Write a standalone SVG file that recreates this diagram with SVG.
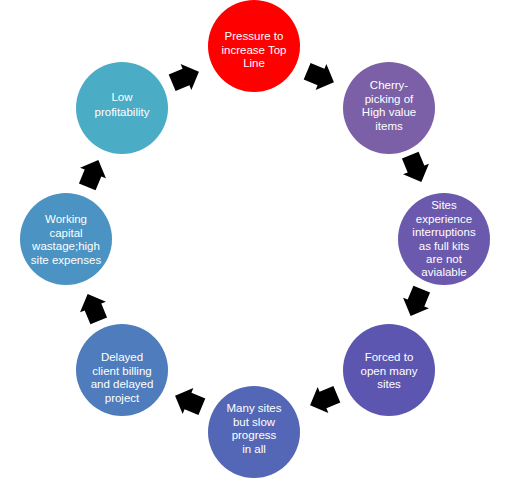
<svg xmlns="http://www.w3.org/2000/svg" xmlns:xlink="http://www.w3.org/1999/xlink" width="511" height="479" viewBox="0 0 511 479">
<style>
.t{font-family:"Liberation Sans",Arial,sans-serif;font-size:11.5px;fill:#ffffff;text-anchor:middle}
.arr{fill:#000000}
</style>
<defs>
<polygon id="ah" points="-15,-9 0,-9 0,-14 14,0 0,14 0,9 -15,9"/>
</defs>
<rect width="511" height="479" fill="#ffffff"/>
<g id="connectors" class="arr">
<use xlink:href="#ah" transform="translate(186,77) rotate(-22.5)"/>
<use xlink:href="#ah" transform="translate(321,77) rotate(22.5)"/>
<use xlink:href="#ah" transform="translate(416,169) rotate(67.5)"/>
<use xlink:href="#ah" transform="translate(416,303) rotate(112.5)"/>
<use xlink:href="#ah" transform="translate(323,400) rotate(157.5)"/>
<use xlink:href="#ah" transform="translate(188,401) rotate(202.5)"/>
<use xlink:href="#ah" transform="translate(93,307) rotate(-112.5)"/>
<use xlink:href="#ah" transform="translate(93,173) rotate(-67.5)"/>
</g>
<g id="n1">
<circle cx="254" cy="46" r="46" fill="#ff0000"/>
<text class="t" x="254" y="40">Pressure to</text>
<text class="t" x="254" y="53.5">increase Top</text>
<text class="t" x="254" y="67">Line</text>
</g>
<g id="n2">
<circle cx="389" cy="108" r="46" fill="#7b60a7"/>
<text class="t" x="389" y="89">Cherry-</text>
<text class="t" x="389" y="102.5">picking of</text>
<text class="t" x="389" y="116">High value</text>
<text class="t" x="389" y="129.5">items</text>
</g>
<g id="n3">
<circle cx="444" cy="239" r="46" fill="#6b59ad"/>
<text class="t" x="444" y="209">Sites</text>
<text class="t" x="444" y="222.5">experience</text>
<text class="t" x="444" y="236">interruptions</text>
<text class="t" x="444" y="249.5">as full kits</text>
<text class="t" x="444" y="263">are not</text>
<text class="t" x="444" y="276">avialable</text>
</g>
<g id="n4">
<circle cx="389" cy="370" r="46" fill="#5c56b0"/>
<text class="t" x="389" y="361">Forced to</text>
<text class="t" x="389" y="374.5">open many</text>
<text class="t" x="389" y="388">sites</text>
</g>
<g id="n5">
<circle cx="254" cy="432" r="46" fill="#5367b6"/>
<text class="t" x="254" y="412">Many sites</text>
<text class="t" x="254" y="425.5">but slow</text>
<text class="t" x="254" y="439">progress</text>
<text class="t" x="254" y="452.5">in all</text>
</g>
<g id="n6">
<circle cx="122" cy="370" r="46" fill="#4e7cbc"/>
<text class="t" x="122" y="361">Delayed</text>
<text class="t" x="122" y="374.5">client billing</text>
<text class="t" x="122" y="388">and delayed</text>
<text class="t" x="122" y="401.5">project</text>
</g>
<g id="n7">
<circle cx="66" cy="239" r="46" fill="#4a93c2"/>
<text class="t" x="66" y="223">Working</text>
<text class="t" x="66" y="236.5">capital</text>
<text class="t" x="66" y="250">wastage;high</text>
<text class="t" x="66" y="263.5">site expenses</text>
</g>
<g id="n8">
<circle cx="122" cy="108" r="46" fill="#4bacc6"/>
<text class="t" x="122" y="101">Low</text>
<text class="t" x="122" y="116">profitability</text>
</g>
</svg>
